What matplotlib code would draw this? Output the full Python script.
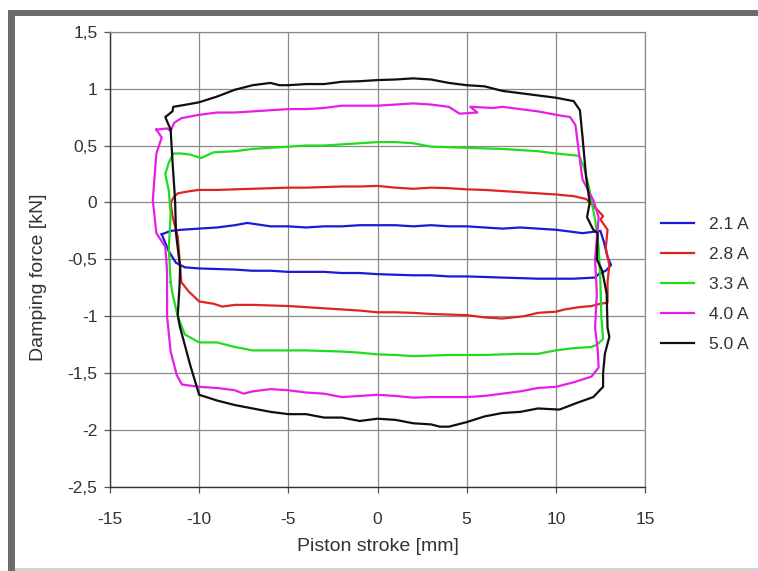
import matplotlib
matplotlib.use("Agg")
import matplotlib.pyplot as plt
from matplotlib.patches import Rectangle

# ---------------- data ----------------
labels = ["2.1 A", "2.8 A", "3.3 A", "4.0 A", "5.0 A"]
colors = ["#1a1ad8", "#e02424", "#1fdc1f", "#e61ee6", "#101010"]

x_21 = [-12.1, -11.6, -11.0, -10, -9, -8, -7.3, -6, -5, -4, -3, -2, -1, 0, 1, 2, 3, 4, 5, 6, 7, 8, 9, 10,
        11, 11.5, 12.0, 12.5, 12.7, 12.9, 13.1, 12.8, 12.4, 12.2, 11, 10, 9, 8, 7, 6, 5, 4, 3, 2, 1, 0,
        -1, -2, -3, -4, -5, -6, -7, -8, -9, -10, -10.8, -11.3, -11.7, -12.1]
y_21 = [-0.28, -0.25, -0.24, -0.23, -0.22, -0.2, -0.18, -0.21, -0.21, -0.22, -0.21, -0.21, -0.2, -0.2,
        -0.2, -0.21, -0.2, -0.21, -0.21, -0.22, -0.23, -0.22, -0.23, -0.24, -0.26, -0.27, -0.26, -0.25,
        -0.35, -0.48, -0.55, -0.6, -0.63, -0.66, -0.67, -0.67, -0.67, -0.665, -0.66, -0.655, -0.65, -0.65,
        -0.64, -0.64, -0.635, -0.63, -0.62, -0.62, -0.61, -0.61, -0.61, -0.6, -0.6, -0.59, -0.585, -0.58,
        -0.57, -0.53, -0.43, -0.28]

x_28 = [-11.6, -11.4, -11.2, -10.5, -10, -9, -8, -7, -6, -5, -4, -3, -2, -1, 0, 1, 2, 3, 4, 5, 6, 7, 8, 9,
        10, 11, 11.7, 12.3, 12.65, 12.5, 12.9, 12.8, 13.0, 12.9, 12.9, 12.5, 12, 11.3, 10.5, 10, 9, 8.2, 7,
        6, 5, 4, 3, 2, 1, 0, -1, -2, -3, -4, -5, -6, -7, -8, -8.7, -9.2, -10, -10.6, -11.0, -11.1, -11.2,
        -11.5, -11.6]
y_28 = [0.0, 0.05, 0.08, 0.1, 0.11, 0.11, 0.115, 0.12, 0.125, 0.13, 0.13, 0.135, 0.14, 0.14, 0.145, 0.13,
        0.12, 0.13, 0.125, 0.115, 0.11, 0.1, 0.09, 0.08, 0.07, 0.055, 0.03, -0.06, -0.12, -0.15, -0.24,
        -0.4, -0.55, -0.7, -0.88, -0.89, -0.91, -0.92, -0.94, -0.96, -0.97, -1.0, -1.02, -1.01, -0.99,
        -0.985, -0.98, -0.97, -0.965, -0.965, -0.95, -0.94, -0.93, -0.92, -0.91, -0.905, -0.9, -0.9,
        -0.915, -0.89, -0.87, -0.78, -0.7, -0.5, -0.3, -0.12, 0.0]

x_33 = [-11.6, -11.7, -11.6, -11.7, -11.9, -11.7, -11.45, -11, -10.5, -9.9, -9.2, -8, -7, -6, -5, -4, -3,
        -2, -1, 0, 1, 2, 3, 4, 5, 6, 7, 8, 9, 10, 11.3, 11.6, 11.9, 12.2, 12.4, 12.5, 12.55, 12.65, 12.3,
        12, 11, 10, 9, 8, 7, 6, 5, 4, 3, 2, 1, 0, -1, -2, -3, -4, -5, -6, -7, -8, -9, -10, -10.8, -11.2,
        -11.5, -11.6]
y_33 = [-0.7, -0.4, -0.1, 0.1, 0.25, 0.35, 0.43, 0.43, 0.42, 0.39, 0.44, 0.45, 0.47, 0.48, 0.49, 0.5,
        0.5, 0.51, 0.52, 0.53, 0.53, 0.52, 0.49, 0.485, 0.48, 0.475, 0.47, 0.46, 0.45, 0.43, 0.41, 0.3,
        0.1, -0.15, -0.4, -0.7, -1.0, -1.2, -1.25, -1.27, -1.28, -1.3, -1.33, -1.33, -1.335, -1.34, -1.34,
        -1.34, -1.345, -1.35, -1.34, -1.335, -1.32, -1.31, -1.305, -1.3, -1.3, -1.3, -1.3, -1.27, -1.23,
        -1.23, -1.16, -1.0, -0.8, -0.7]

x_40 = [-12.4, -11.8, -11.6, -11.4, -11.0, -10, -9, -8, -7, -6, -5, -4, -3, -2, -1, 0, 1, 2, 3, 4, 4.6,
        5.6, 5.2, 6.5, 7, 8, 9, 10, 10.8, 11.1, 11.3, 11.5, 12.1, 12.4, 12.2, 12.3, 12.2, 12.35, 12.4, 12,
        11, 10, 9, 8, 7, 6, 5, 4, 3, 2, 1, 0, -1, -2, -3, -4, -5, -6, -7, -7.5, -8, -9, -10, -10.96,
        -11.25, -11.6, -11.8, -11.8, -11.9, -12.4, -12.6, -12.4, -12.1, -12.4]
y_40 = [0.64, 0.65, 0.63, 0.7, 0.74, 0.77, 0.79, 0.79, 0.8, 0.81, 0.82, 0.82, 0.83, 0.85, 0.85, 0.85,
        0.86, 0.87, 0.86, 0.84, 0.78, 0.79, 0.84, 0.83, 0.84, 0.82, 0.8, 0.77, 0.75, 0.68, 0.43, 0.2,
        0.02, -0.13, -0.5, -0.8, -1.1, -1.3, -1.45, -1.53, -1.58, -1.62, -1.63, -1.66, -1.68, -1.7, -1.71,
        -1.71, -1.71, -1.715, -1.7, -1.69, -1.7, -1.71, -1.68, -1.67, -1.65, -1.64, -1.66, -1.68, -1.65,
        -1.63, -1.62, -1.6, -1.52, -1.31, -1.0, -0.6, -0.39, -0.27, 0.02, 0.43, 0.57, 0.64]

x_50 = [-11.6, -11.9, -11.5, -11.45, -10.7, -10, -9, -8, -7, -6, -5.5, -5, -4, -3, -2, -1, 0, 1, 2, 3, 4,
        5, 6, 7, 8, 9, 10, 11, 11.35, 11.5, 11.7, 11.9, 11.75, 12.1, 12.35, 12.3, 12.6, 12.85, 12.9, 13.0,
        12.75, 12.65, 12.65, 12.1, 11.2, 10.2, 9, 8, 7, 6, 5, 4, 3.5, 3, 2, 1, 0, -1, -2, -3, -4, -5, -6,
        -7, -8, -9, -10, -10.5, -11.1, -11.2, -11.1, -11.07, -11.3, -11.35, -11.5, -11.6]
y_50 = [0.64, 0.75, 0.8, 0.84, 0.86, 0.88, 0.93, 0.99, 1.03, 1.05, 1.03, 1.03, 1.04, 1.04, 1.06, 1.065,
        1.075, 1.08, 1.09, 1.08, 1.05, 1.03, 1.02, 0.98, 0.96, 0.94, 0.92, 0.89, 0.81, 0.57, 0.22, 0.0,
        -0.13, -0.24, -0.27, -0.5, -0.6, -0.8, -1.1, -1.18, -1.33, -1.5, -1.62, -1.71, -1.76, -1.82, -1.81,
        -1.84, -1.85, -1.88, -1.93, -1.97, -1.97, -1.95, -1.94, -1.91, -1.9, -1.92, -1.89, -1.89, -1.86,
        -1.86, -1.84, -1.81, -1.78, -1.74, -1.69, -1.43, -1.08, -0.99, -0.73, -0.57, -0.27, 0.02, 0.37,
        0.64]

xs = [x_21, x_28, x_33, x_40, x_50]
ys = [y_21, y_28, y_33, y_40, y_50]

x_ticks = [-15, -10, -5, 0, 5, 10, 15]
x_tick_labels = ["-15", "-10", "-5", "0", "5", "10", "15"]
y_ticks = [-2.5, -2, -1.5, -1, -0.5, 0, 0.5, 1, 1.5]
y_tick_labels = ["-2,5", "-2", "-1,5", "-1", "-0,5", "0", "0,5", "1", "1,5"]

# ---------------- figure ----------------
W, H = 758, 571
plt.rcParams['font.family'] = ['Liberation Sans', 'DejaVu Sans']
plt.rcParams['axes.unicode_minus'] = False
fig = plt.figure(figsize=(W / 100, H / 100), dpi=100)
fig.patch.set_facecolor("white")


def px_rect(x0, y0, x1, y1, color):
    fig.patches.append(Rectangle((x0 / W, 1 - y1 / H), (x1 - x0) / W, (y1 - y0) / H,
                                 transform=fig.transFigure, facecolor=color, edgecolor="none",
                                 zorder=0))


# slide-like frame
px_rect(8, 10, W, 16, "#6f6b6a")
px_rect(8, 10, 15, H, "#6f6b6a")
px_rect(15, 568, W, H, "#d4d4d4")

ax = fig.add_axes([110 / W, 1 - 487 / H, (645 - 110) / W, (487 - 31.7) / H])
ax.set_facecolor("white")

for x, y, c, lab in zip(xs, ys, colors, labels):
    ax.plot(x, y, color=c, lw=1.6, label=lab, zorder=3)

ax.set_xlim(-15, 15)
ax.set_ylim(-2.5, 1.5)
ax.set_xticks(x_ticks)
ax.set_xticklabels(x_tick_labels)
ax.set_yticks(y_ticks)
ax.set_yticklabels(y_tick_labels)
ax.grid(True, color="#8a8a8a", lw=0.9, zorder=1)
ax.tick_params(direction="out", length=4, width=0.9, color="#555555", labelsize=12.5,
               labelcolor="#333333")
ax.tick_params(axis="x", pad=14)
ax.tick_params(axis="y", pad=5)
for side in ["top", "right"]:
    ax.spines[side].set_color("#8a8a8a")
    ax.spines[side].set_linewidth(0.9)
for side in ["left", "bottom"]:
    ax.spines[side].set_color("#333333")
    ax.spines[side].set_linewidth(1.0)

ax.set_xlabel("Piston stroke [mm]", fontsize=14, color="#333333", labelpad=8)
ax.set_ylabel("Damping force [kN]", fontsize=14, color="#333333")
ax.yaxis.set_label_coords(-0.117, 0.46)

leg = ax.legend(loc="center left", bbox_to_anchor=(661 / W, 1 - 284.5 / H),
                bbox_transform=fig.transFigure, frameon=False, fontsize=12.5,
                handlelength=1.9, handletextpad=0.85, labelspacing=0.85, borderpad=0,
                borderaxespad=0)
for t in leg.get_texts():
    t.set_color("#333333")

fig.savefig("out.png", dpi=100)
